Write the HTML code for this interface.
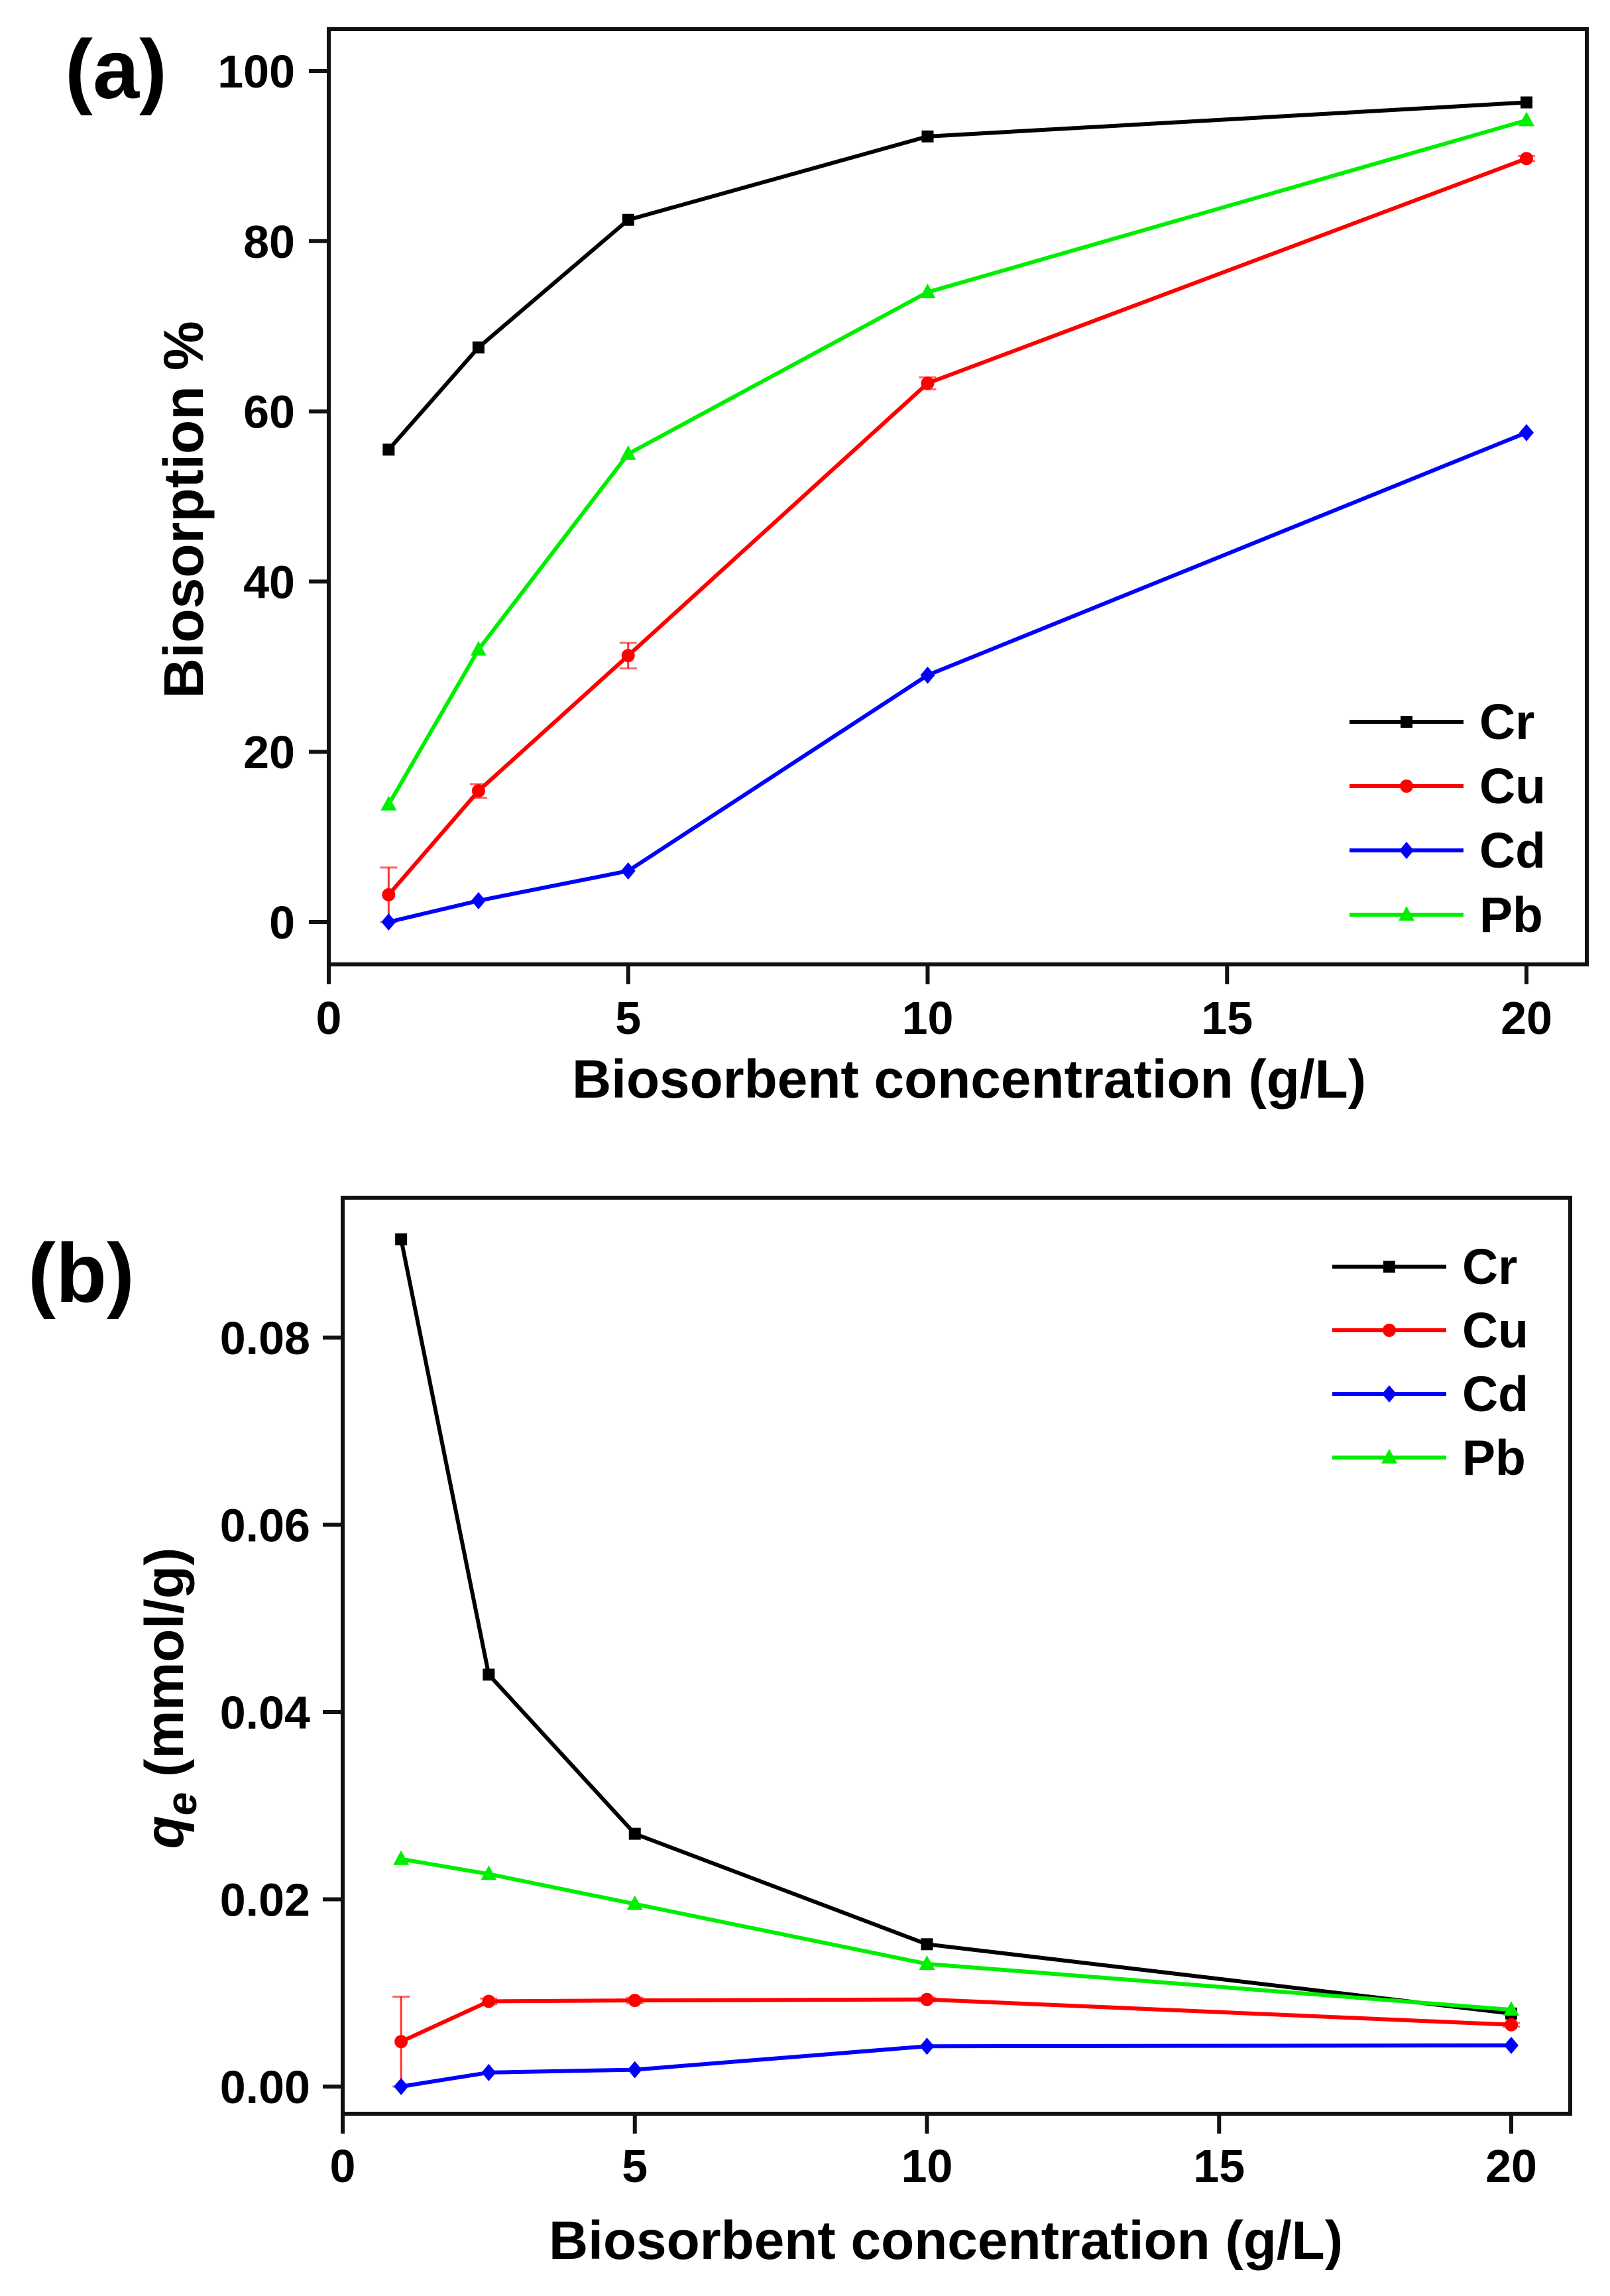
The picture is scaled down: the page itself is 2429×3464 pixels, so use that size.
<!DOCTYPE html>
<html><head><meta charset="utf-8"><style>
html,body{margin:0;padding:0;background:#fff;}
svg{display:block;font-family:"Liberation Sans",Arial,sans-serif;font-weight:bold;}
</style></head><body>
<svg id="fig" width="2429" height="3464" viewBox="0 0 2429 3464" xmlns="http://www.w3.org/2000/svg">
<rect width="2429" height="3464" fill="#fff"/>
</svg>
<script>
const xValues = [1, 2.5, 5, 10, 20];
const seriesNames = ['Cr','Cu','Cd','Pb'];
const seriesColors = ['#000000','#ff0000','#0000ff','#00ee00'];
const pctCr = [55.5, 67.5, 82.5, 92.3, 96.3];
const pctCu = [3.2, 15.4, 31.3, 63.3, 89.7];
const pctCd = [0, 2.5, 6.0, 29.0, 57.5];
const pctPb = [13.8, 32.0, 55.0, 74.0, 94.2];
const pctErrCu = [3.2, 0.8, 1.5, 0.7, 0.3];
const qeCr = [0.0905, 0.0440, 0.0270, 0.0152, 0.0078];
const qeCu = [0.0048, 0.0091, 0.0092, 0.0093, 0.0066];
const qeCd = [0, 0.0015, 0.0018, 0.0043, 0.0044];
const qePb = [0.0243, 0.0227, 0.0195, 0.0131, 0.0082];
const qeErrCu = [0.0048, 0.0003, 0.0003, 0.0002, 0.0002];
const xTicks = [0, 5, 10, 15, 20];
const yTicksA = [0, 20, 40, 60, 80, 100];
const yTicksB = [0, 0.02, 0.04, 0.06, 0.08];
const yTickLabelsB = ['0.00','0.02','0.04','0.06','0.08'];

const NS = 'http://www.w3.org/2000/svg';
const svg = document.getElementById('fig');
function el(tag, attrs, parent, text){
  const e = document.createElementNS(NS, tag);
  for (const k in attrs) e.setAttribute(k, attrs[k]);
  if (text !== undefined) e.textContent = text;
  (parent || svg).appendChild(e);
  return e;
}
function marker(g, i, x, y, c){
  let m;
  if (i === 0) m = el('rect', {x:x-9, y:y-9, width:18, height:18, fill:c}, g);
  else if (i === 1) m = el('circle', {cx:x, cy:y, r:10, fill:c}, g);
  else if (i === 2) m = el('polygon', {points:`${x},${y-13} ${x+11},${y} ${x},${y+13} ${x-11},${y}`, fill:c}, g);
  else m = el('polygon', {points:`${x},${y-13} ${x+12},${y+9} ${x-12},${y+9}`, fill:c}, g);
  return m;
}
function panel(cfg){
  const g = el('g', {});
  
  
  const X = v => cfg.x0 + (v - 0) * (cfg.x20 - cfg.x0) / 20;
  const Y = v => cfg.yb0 + (v - cfg.yv0) * (cfg.yb1 - cfg.yb0) / (cfg.yv1 - cfg.yv0);
  const box = el('rect', {x:cfg.L, y:cfg.T, width:cfg.R-cfg.L, height:cfg.B-cfg.T, fill:'none', stroke:'#111', 'stroke-width':6}, g);
  
  
  xTicks.forEach(t => {
    el('line', {x1:X(t), x2:X(t), y1:cfg.B, y2:cfg.B+30, stroke:'#111', 'stroke-width':6}, g);
    const tl = el('text', {x:X(t), y:cfg.xLabY, 'text-anchor':'middle', 'font-size':70}, g, String(t));
    
    
  });
  cfg.yTicks.forEach((t, k) => {
    el('line', {x1:cfg.L-30, x2:cfg.L, y1:Y(t), y2:Y(t), stroke:'#111', 'stroke-width':6}, g);
    const tl = el('text', {x:cfg.yLabX, y:Y(t)+25, 'text-anchor':'end', 'font-size':70}, g, cfg.yLabels[k]);
    
    
  });
  cfg.series.forEach((vals, i) => {
    const sg = el('g', {}, g);
    
    
    const c = seriesColors[i];
    const pts = vals.map((v, j) => X(xValues[j]) + ',' + Y(v)).join(' ');
    el('polyline', {points:pts, fill:'none', stroke:c, 'stroke-width':6}, sg);
    if (cfg.errs[i]) cfg.errs[i].forEach((e, j) => {
      const x = X(xValues[j]), y1 = Y(vals[j]-e), y2 = Y(vals[j]+e);
      el('line', {x1:x, x2:x, y1:y1, y2:y2, stroke:c, 'stroke-width':3, opacity:0.8}, sg);
      el('line', {x1:x-13, x2:x+13, y1:y2, y2:y2, stroke:c, 'stroke-width':3, opacity:0.6}, sg);
      el('line', {x1:x-13, x2:x+13, y1:y1, y2:y1, stroke:c, 'stroke-width':3, opacity:0.6}, sg);
    });
    vals.forEach((v, j) => {
      const m = marker(sg, i, X(xValues[j]), Y(v), c);
      
      
    });
  });
  const lg = el('g', {}, g);
  
  
  seriesNames.forEach((n, i) => {
    const y = cfg.legY + i * cfg.legDy;
    const eg = el('g', {}, lg);
    
    
    el('line', {x1:cfg.legX, x2:cfg.legX+172, y1:y, y2:y, stroke:seriesColors[i], 'stroke-width':6}, eg);
    marker(eg, i, cfg.legX+86, y, seriesColors[i]);
    el('text', {x:cfg.legX+196, y:y+26, 'font-size':75}, eg, n);
  });
  const xt = el('text', {x:cfg.xtX, y:cfg.xtY, 'text-anchor':'middle', 'font-size':82}, g, 'Biosorbent concentration (g/L)');
  
  
  const pl = el('text', {x:cfg.plX, y:cfg.plY, 'font-size':126}, g, cfg.panelLabel);
  
  
  return g;
}
panel({name:'panel-a', L:496, T:44, R:2394, B:1455, x0:496, x20:2303, yv0:0, yv1:100, yb0:1391, yb1:107,
  yTicks:yTicksA, yLabels:yTicksA.map(String), yLabX:445, xLabY:1560,
  series:[pctCr, pctCu, pctCd, pctPb], errs:[null, pctErrCu, null, null],
  legX:2036, legY:1089, legDy:97, xtX:1462, xtY:1656, plX:98, plY:148, panelLabel:'(a)'});
panel({name:'panel-b', L:517, T:1807, R:2369, B:3189, x0:517, x20:2280, yv0:0, yv1:0.08, yb0:3148, yb1:2018,
  yTicks:yTicksB, yLabels:yTickLabelsB, yLabX:468, xLabY:3292,
  series:[qeCr, qeCu, qeCd, qePb], errs:[null, qeErrCu, null, null],
  legX:2010, legY:1911, legDy:96, xtX:1427, xtY:3408, plX:42, plY:1964, panelLabel:'(b)'});
const ya = el('text', {x:0, y:0, 'text-anchor':'middle', 'font-size':84, transform:'translate(306,769) rotate(-90)'}, svg, 'Biosorption %');


const yb = el('text', {x:0, y:0, 'text-anchor':'middle', 'font-size':82, transform:'translate(276,2562) rotate(-90)'}, svg);


el('tspan', {'font-style':'italic'}, yb, 'q');
el('tspan', {'font-style':'italic', 'font-size':64, dy:20}, yb, 'e');
el('tspan', {dy:-20}, yb, ' (mmol/g)');
</script>
</body></html>
